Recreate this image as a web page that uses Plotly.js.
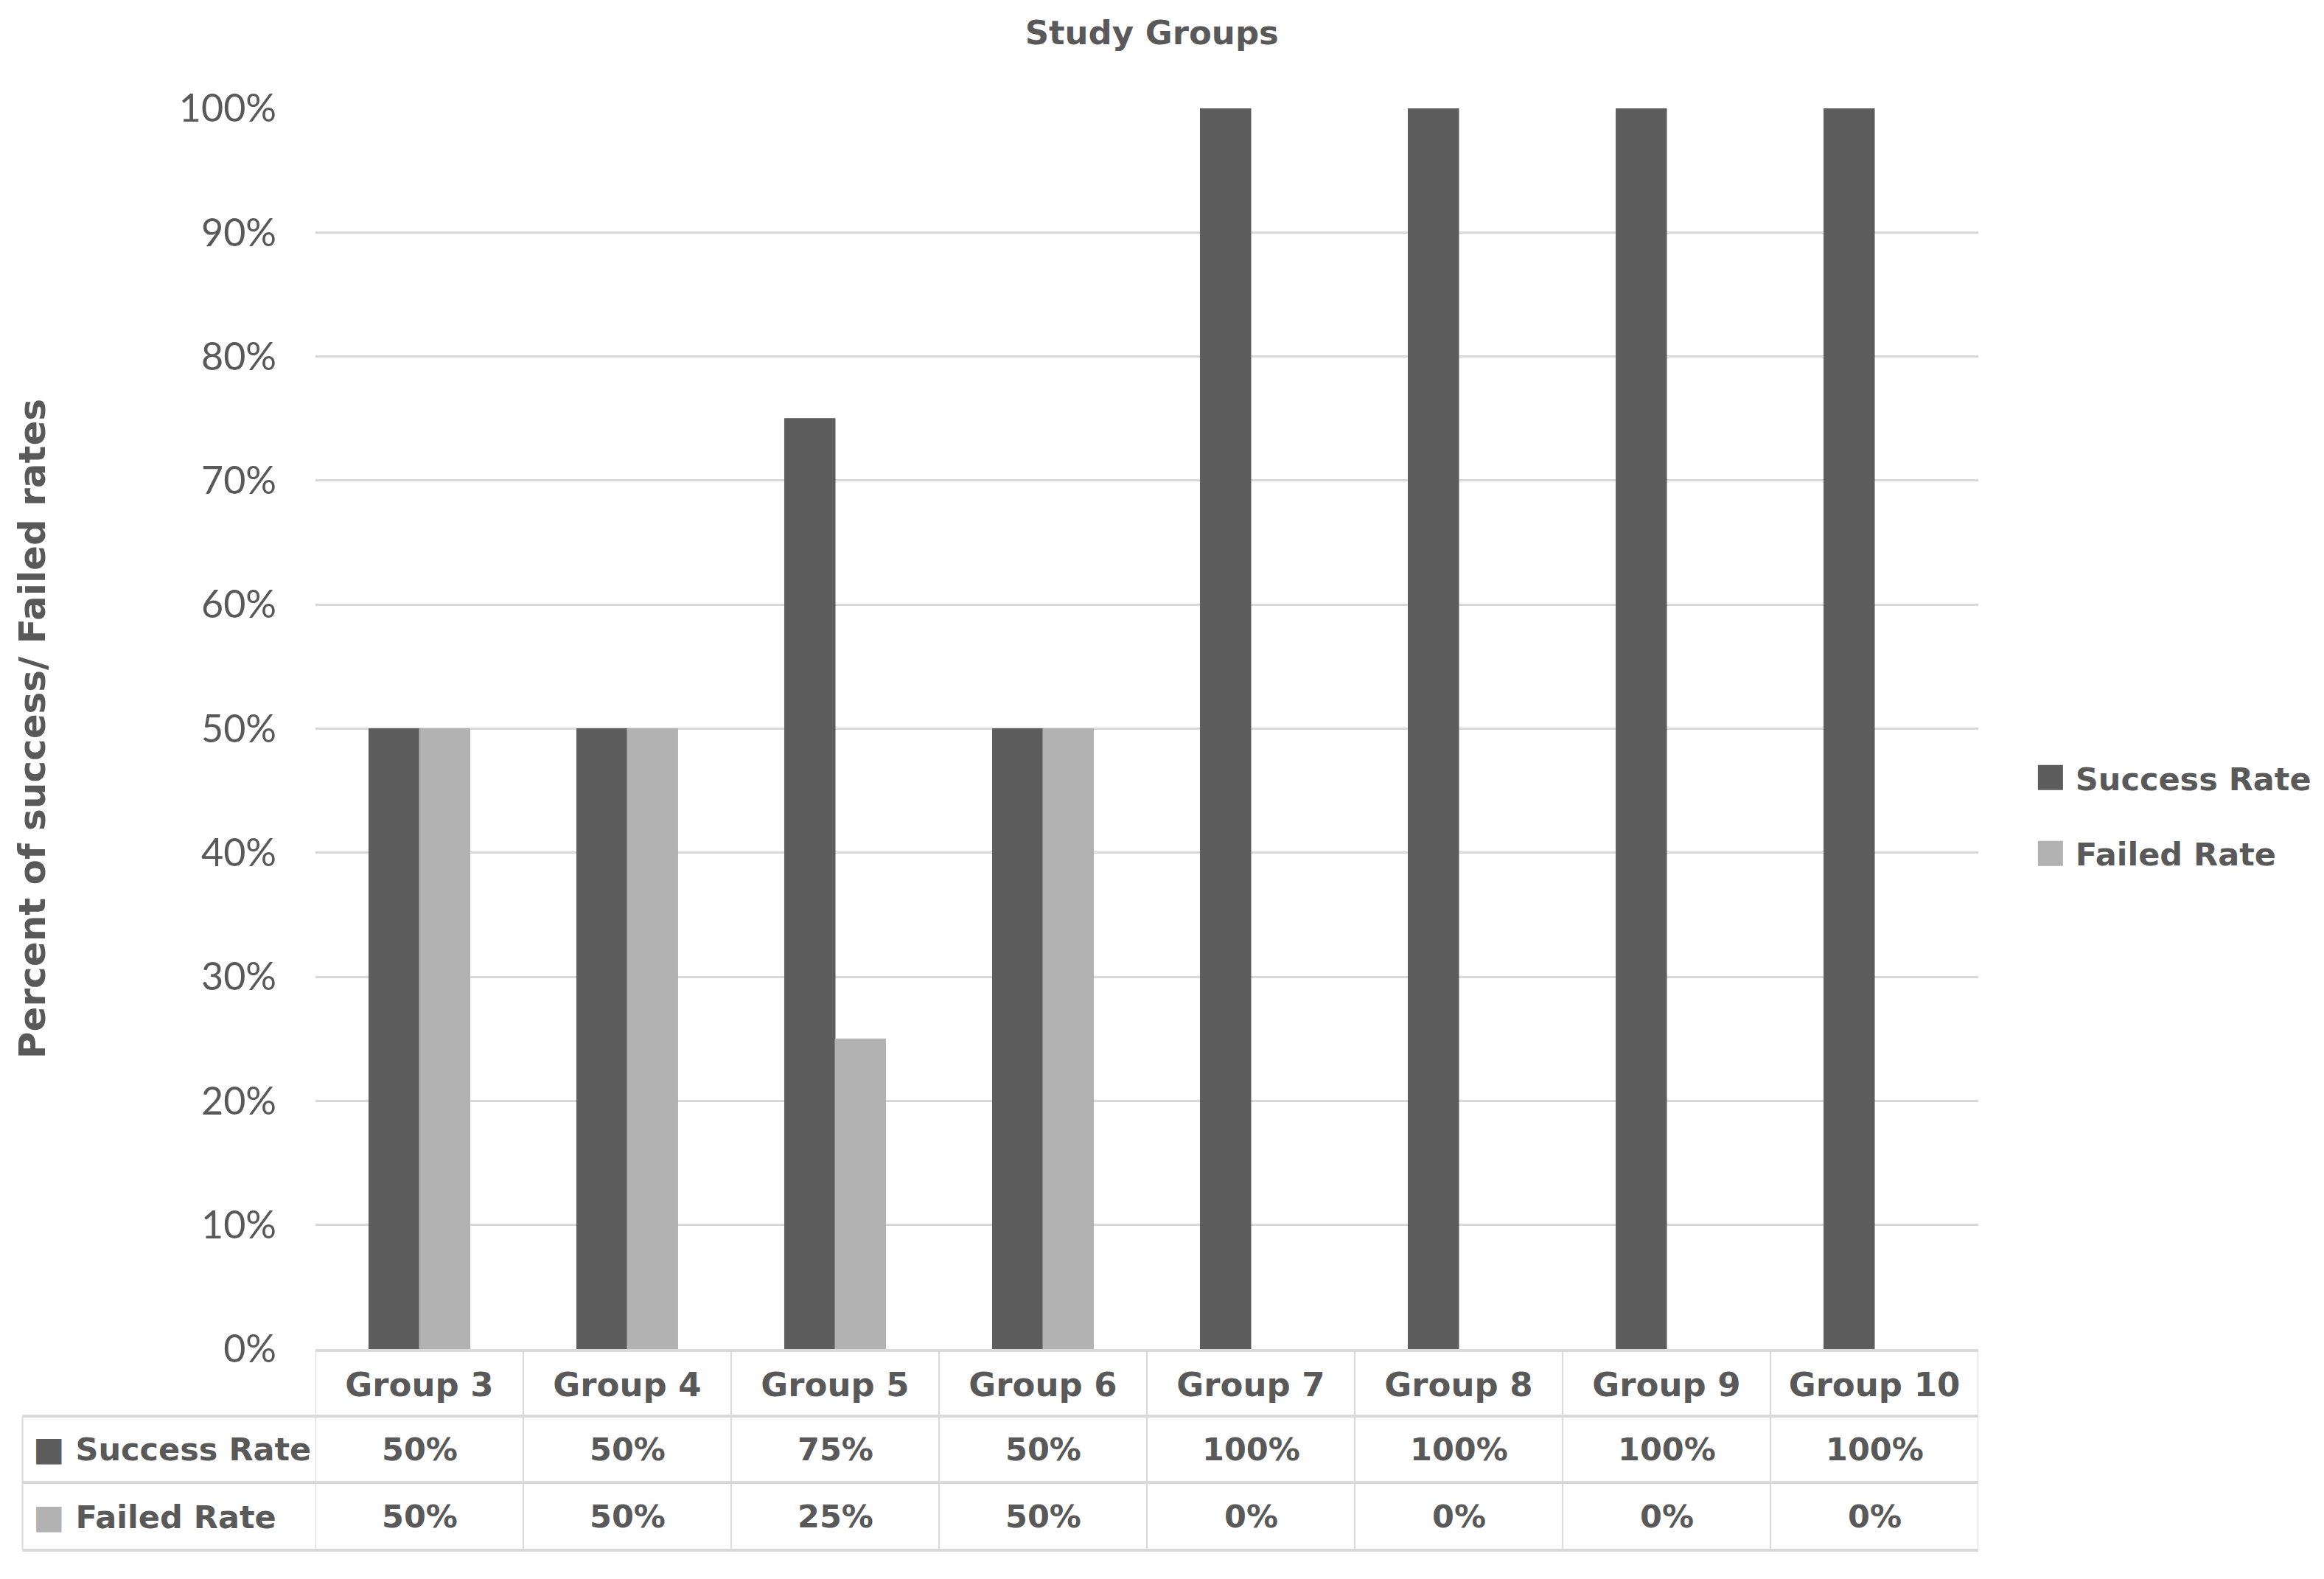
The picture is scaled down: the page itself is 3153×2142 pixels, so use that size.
<!DOCTYPE html>
<html>
<head>
<meta charset="utf-8">
<script src="https://cdn.plot.ly/plotly-3.0.1.min.js"></script>
<style>
  html, body { margin: 0; padding: 0; background: #ffffff; }
  #chart { width: 3153px; height: 2142px; }
  .legend .legendpoints path { stroke-width: 22px !important; }
</style>
</head>
<body>
<div id="chart"></div>
<script>
// ---- data ----
var categories = ['Group 3', 'Group 4', 'Group 5', 'Group 6', 'Group 7', 'Group 8', 'Group 9', 'Group 10'];
var seriesNames = ['Success Rate', 'Failed Rate'];
var successRate = [50, 50, 75, 50, 100, 100, 100, 100];
var failedRate = [50, 50, 25, 50, 0, 0, 0, 0];
var yTickValues = [0, 10, 20, 30, 40, 50, 60, 70, 80, 90, 100];
var yTickLabels = yTickValues.map(function (v) { return v + '%'; });

// ---- styles ----
var darkColor = '#5d5d5d';
var lightColor = '#b2b2b2';
var textColor = '#595959';
var lineColor = '#d9d9d9';
var boldFont = { family: 'DejaVu Sans', size: 43, color: textColor, weight: 'bold' };

var seriesValues = [successRate, failedRate];
var seriesColors = [darkColor, lightColor];

var traces = seriesNames.map(function (name, i) {
  return {
    type: 'bar',
    name: name,
    x: categories,
    y: seriesValues[i],
    legendgroup: 'g' + i,
    marker: {
      color: seriesColors[i],
      line: { color: seriesColors[i], width: seriesValues[i].map(function (v) { return v > 0 ? 1 : 0; }) }
    },
    hoverinfo: 'x+y+name'
  };
});

// table geometry (paper units relative to the plot area)
var rowCenters = [-0.0808, -0.1349];
var rowLines = [-0.05407, -0.10755, -0.16221];
var tableLeft = -0.17618;

var annotations = [];
seriesNames.forEach(function (name, r) {
  annotations.push({
    xref: 'paper', yref: 'paper', x: tableLeft + 0.0055, y: rowCenters[r],
    xanchor: 'left', yanchor: 'middle', showarrow: false,
    text: '<span style="color:' + seriesColors[r] + ';font-size:45px">■</span> ' + name,
    font: boldFont
  });
  categories.forEach(function (c, k) {
    annotations.push({
      xref: 'x', yref: 'paper', x: c, y: rowCenters[r],
      xanchor: 'center', yanchor: 'middle', showarrow: false,
      text: seriesValues[r][k] + '%',
      font: boldFont
    });
  });
});

var shapes = [];
rowLines.forEach(function (yy) {
  shapes.push({ type: 'line', xref: 'paper', yref: 'paper', x0: tableLeft, x1: 1, y0: yy, y1: yy,
    line: { color: lineColor, width: 4 } });
});
for (var i = 0; i <= categories.length; i++) {
  shapes.push({ type: 'line', xref: 'x', yref: 'paper', x0: i - 0.5, x1: i - 0.5, y0: 0, y1: rowLines[2],
    line: { color: lineColor, width: 2 } });
}
shapes.push({ type: 'line', xref: 'paper', yref: 'paper', x0: tableLeft, x1: tableLeft, y0: rowLines[0], y1: rowLines[2],
  line: { color: lineColor, width: 2 } });

var layout = {
  width: 3153,
  height: 2142,
  autosize: false,
  paper_bgcolor: '#ffffff',
  plot_bgcolor: '#ffffff',
  margin: { l: 428, r: 466, t: 147, b: 312 },
  barmode: 'group',
  bargap: 0.514,
  bargroupgap: 0,
  title: {
    text: 'Study Groups',
    font: { family: 'DejaVu Sans', size: 45, color: textColor, weight: 'bold' },
    xref: 'paper', x: 0.503, xanchor: 'center',
    yref: 'container', y: 0.9795, yanchor: 'middle'
  },
  xaxis: {
    type: 'category',
    range: [-0.5, categories.length - 0.5],
    showgrid: false,
    zeroline: false,
    showline: true,
    linecolor: lineColor,
    linewidth: 4,
    ticks: '',
    ticklabelstandoff: 6,
    tickfont: { family: 'DejaVu Sans', size: 45, color: textColor, weight: 'bold' },
    fixedrange: true
  },
  yaxis: {
    range: [0, 100],
    tickmode: 'array',
    tickvals: yTickValues,
    ticktext: yTickLabels,
    showgrid: true,
    gridcolor: lineColor,
    gridwidth: 3,
    zeroline: false,
    showline: false,
    ticks: '',
    ticklabelstandoff: 52,
    tickfont: { family: 'Lato', size: 52, color: textColor },
    title: {
      text: 'Percent of success/ Failed rates',
      font: { family: 'DejaVu Sans', size: 50, color: textColor, weight: 'bold' },
      standoff: 165
    },
    fixedrange: true
  },
  showlegend: true,
  legend: {
    x: 1.0283, xanchor: 'left',
    y: 0.430, yanchor: 'middle',
    font: boldFont,
    itemwidth: 58,
    tracegroupgap: 44,
    bgcolor: 'rgba(0,0,0,0)'
  },
  annotations: annotations,
  shapes: shapes
};

Plotly.newPlot('chart', traces, layout, { displayModeBar: false, staticPlot: true });
</script>
</body>
</html>
